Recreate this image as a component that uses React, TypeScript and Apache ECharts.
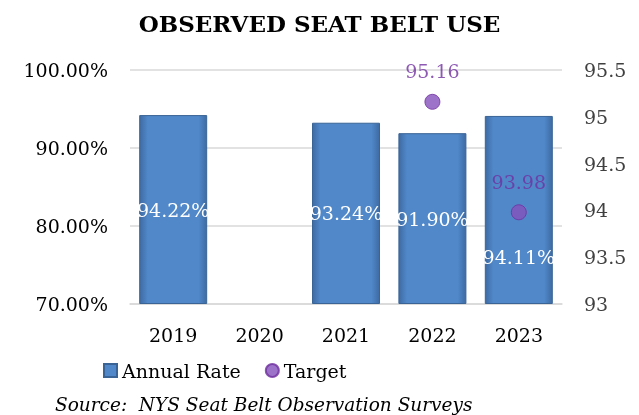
import React, { useEffect, useRef } from "react";
import * as echarts from "echarts";

const years = ["2019", "2020", "2021", "2022", "2023"];
const annualRate: (number | null)[] = [94.22, null, 93.24, 91.9, 94.11];
const target: (number | null)[] = [null, null, null, 95.16, 93.98];
const leftTicks = { min: 70, max: 100, interval: 10 };
const rightTicks = { min: 93, max: 95.5, interval: 0.5 };

const FONT = "DejaVu Serif";

export default function App() {
  const ref = useRef<HTMLDivElement>(null);
  useEffect(() => {
    if (!ref.current) return;
    const chart = echarts.init(ref.current, undefined, { renderer: "svg" });
    const barColor = new echarts.graphic.LinearGradient(0, 0, 1, 0, [
      { offset: 0, color: "#3E6BA3" },
      { offset: 0.12, color: "#5088C9" },
      { offset: 0.88, color: "#5088C9" },
      { offset: 1, color: "#3E6BA3" },
    ]);
    chart.setOption({
      animation: false,
      textStyle: { fontFamily: FONT },
      title: [
        {
          text: "OBSERVED SEAT BELT USE",
          left: "center",
          top: 7,
          textStyle: { fontFamily: FONT, fontWeight: "bold", fontSize: 23, color: "#000" },
        },
        {
          text: "Source:  NYS Seat Belt Observation Surveys",
          left: 50,
          top: 390,
          textStyle: { fontFamily: FONT, fontStyle: "italic", fontWeight: "normal", fontSize: 18.5, color: "#000" },
        },
      ],
      legend: {
        left: 98,
        top: 356,
        itemWidth: 13,
        itemHeight: 13,
        itemGap: 24,
        textStyle: { fontFamily: FONT, fontSize: 19, color: "#000" },
        data: [
          { name: "Annual Rate", icon: "rect" },
          { name: "Target", icon: "circle" },
        ],
      },
      grid: { left: 130, right: 77, top: 70, bottom: 111 },
      xAxis: {
        type: "category",
        data: years,
        axisLine: { lineStyle: { color: "#d9d9d9", width: 1.5 } },
        axisTick: { show: false },
        axisLabel: { fontFamily: FONT, fontSize: 19, color: "#000", margin: 21 },
      },
      yAxis: [
        {
          type: "value",
          min: leftTicks.min,
          max: leftTicks.max,
          interval: leftTicks.interval,
          startValue: leftTicks.min,
          axisLine: { show: false },
          axisTick: { show: false },
          splitLine: { lineStyle: { color: "#d9d9d9", width: 1.5 } },
          axisLabel: {
            fontFamily: FONT,
            fontSize: 19,
            color: "#000",
            margin: 22,
            formatter: (v: number) => v.toFixed(2) + "%",
          },
        },
        {
          type: "value",
          min: rightTicks.min,
          max: rightTicks.max,
          interval: rightTicks.interval,
          axisLine: { show: false },
          axisTick: { show: false },
          splitLine: { show: false },
          axisLabel: { fontFamily: FONT, fontSize: 19, color: "#404040", margin: 22 },
        },
      ],
      series: [
        {
          name: "Annual Rate",
          type: "bar",
          yAxisIndex: 0,
          barWidth: 68,
          itemStyle: { color: barColor, borderColor: "#3A6496", borderWidth: 1 },
          label: {
            show: true,
            position: "inside",
            color: "#fff",
            fontFamily: FONT,
            fontSize: 19,
            formatter: (p: any) => p.value.toFixed(2) + "%",
          },
          data: annualRate.map((v, i) =>
            i === annualRate.length - 1 && v !== null
              ? { value: v, label: { offset: [0, 47] } }
              : v
          ),
        },
        {
          name: "Target",
          type: "scatter",
          yAxisIndex: 1,
          symbol: "circle",
          symbolSize: 15,
          itemStyle: { color: "#8450BC", borderColor: "#7030A0", borderWidth: 1 },
          label: {
            show: true,
            position: "top",
            distance: 13,
            color: "#7030A0",
            fontFamily: FONT,
            fontSize: 19,
            formatter: (p: any) => p.value.toFixed(2),
          },
          data: target,
        },
      ],
    });
    return () => chart.dispose();
  }, []);
  return (
    <div
      ref={ref}
      style={{ position: "fixed", left: 0, top: 0, width: 639, height: 415 }}
    />
  );
}
